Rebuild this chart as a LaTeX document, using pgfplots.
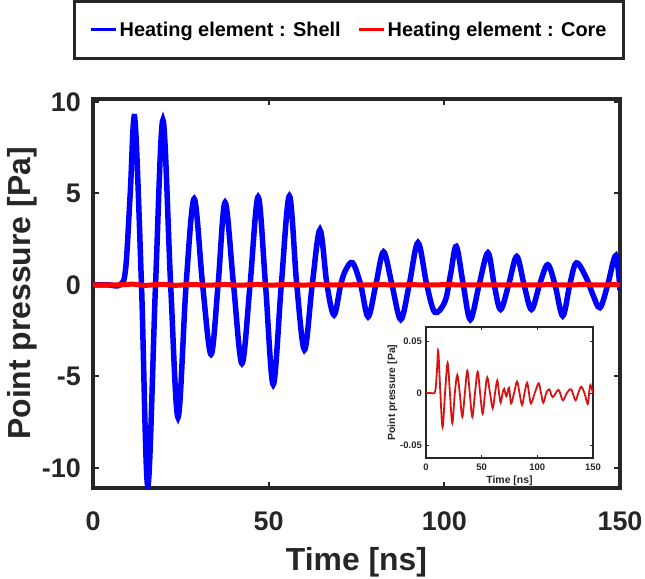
\documentclass[border=0pt]{standalone}
\usepackage{fontspec}
\setmainfont{Liberation Sans}
\usepackage{pgfplots}
\pgfplotsset{compat=1.18}
\usepackage{pgfplotstable}

\definecolor{axgray}{RGB}{38,38,38}
\definecolor{shellblue}{RGB}{0,0,255}
\definecolor{corered}{RGB}{255,0,0}
\definecolor{insetred}{RGB}{215,20,20}

% Point pressure, heating element in the shell [Pa]
\pgfplotstableread{
t p
0 0
4.0 0
7.8 0
9.3 0.9
10.6 5.0
11.9 9.1
13.8 0
15.6 -11.0
17.8 0
19.9 9.0
22.1 0
24.2 -7.25
26.5 0
28.8 4.7
31.2 0
33.6 -3.8
35.6 0
37.6 4.5
40.0 0
42.4 -4.3
44.7 0
47.0 4.8
49.1 0
51.3 -5.45
53.6 0
55.9 4.85
58.0 0
60.2 -3.55
62.4 0
64.6 3.0
66.6 0
68.6 -1.65
70.5 0
71.9 0.8
73.9 1.2
76.2 0
78.3 -1.75
80.5 0
82.7 1.8
85.1 0
87.6 -1.9
90.0 0
92.5 2.3
95.0 0
97.3 -1.5
100.2 -0.9
101.8 0.6
103.4 2.1
105.4 0
107.4 -1.9
109.9 0
112.4 1.75
114.2 0
116.0 -1.35
118.3 0
120.6 1.55
122.7 0
124.8 -1.35
127.1 0
129.4 1.1
131.5 0
133.7 -1.7
135.7 0
137.6 1.2
140.6 0.3
142.2 -0.5
144.3 -1.25
146.5 0
148.8 1.6
150.0 -0.3
}\shelldata

% Point pressure, heating element in the core [Pa]
\pgfplotstableread{
t p
0 0
4.0 0
7.6 0
8.8 0.006
9.9 0.022
11.0 0.0407
12.9 0
14.9 -0.033
17.1 0
19.4 0.029
21.5 0
23.6 -0.029
25.9 0
28.1 0.0173
30.3 0
32.6 -0.023
34.9 0
37.1 0.0215
39.3 0
41.6 -0.023
44.0 0
46.4 0.0205
48.6 0
50.9 -0.020
53.0 0
55.0 0.015
57.5 0
59.9 -0.0147
62.0 0
64.0 0.012
65.6 0
67.1 -0.0093
68.8 0
70.2 0.004
72.2 -0.003
74.6 0.005
76.4 -0.010
79.1 0
81.8 0.011
84.0 0
86.3 -0.0115
88.5 0
90.8 0.010
92.5 0
94.3 -0.010
97.7 0
101.2 0.0093
103.3 0
105.4 -0.0093
108.0 0
110.8 0.0035
113.8 -0.004
119.0 0.003
122.9 -0.007
126.5 0
130.4 0.0035
134.2 -0.007
136.8 0
139.4 0.006
142.3 0
145.3 -0.0105
146.5 0
147.7 0.0077
150.0 0
}\coredata

\begin{document}
\begin{tikzpicture}
\useasboundingbox (-93bp,-91bp) rectangle (552bp,488bp);
\begin{axis}[
  at={(0,0)}, anchor=south west,
  width=527bp, height=389bp, scale only axis,
  xmin=0, xmax=150, ymin=-11.1, ymax=10.15,
  xtick={0,50,100,150}, ytick={-10,-5,0,5,10},
  tick align=inside, major tick length=6bp,
  every tick/.style={axgray, line width=2bp},
  axis line style={axgray, line width=3.5bp},
  /pgf/number format/assume math mode=true,
  ticklabel style={font=\bfseries\fontsize{27}{30}\selectfont, text=axgray},
  xticklabel style={anchor=base, yshift=-42.7bp},
  yticklabel style={anchor=east, inner xsep=0pt, xshift=-12bp},
  xlabel={Time [ns]}, ylabel={Point pressure [Pa]},
  every axis x label/.style={at={(axis description cs:0.5,0)}, yshift=-74bp, anchor=center,
    font=\bfseries\fontsize{32}{36}\selectfont, text=axgray},
  every axis y label/.style={at={(axis description cs:0,0.5)}, xshift=-71bp, rotate=90, anchor=center,
    font=\bfseries\fontsize{32}{36}\selectfont, text=axgray},
  legend columns=2,
  legend style={at={(axis description cs:0.486,1.1774)}, anchor=center,
    draw=axgray, line width=3bp, fill=white,
    inner xsep=15bp, inner ysep=19bp,
    font=\bfseries\fontsize{20}{22}\selectfont,
    /tikz/every even column/.append style={column sep=15bp}},
  legend image code/.code={\draw[#1, line width=3bp] (0bp,0bp) -- (25bp,0bp);},
]
\addplot[shellblue, line width=5.5bp, smooth, tension=0.55] table {\shelldata};
\addlegendentry{Heating element : Shell}
\addplot[corered, line width=5bp, smooth, tension=0.55] table {\coredata};
\addlegendentry{Heating element : Core}
\end{axis}

% inset: core signal at its own scale
\begin{axis}[
  at={(333bp,30bp)}, anchor=south west,
  width=167bp, height=131bp, scale only axis,
  axis background/.style={fill=white},
  xmin=0, xmax=150, ymin=-0.0625, ymax=0.0635,
  xtick={0,50,100,150}, ytick={-0.05,0,0.05},
  yticklabels={-0.05,0,0.05}, scaled y ticks=false,
  tick align=inside, major tick length=3bp,
  every tick/.style={axgray, line width=0.8bp},
  axis line style={axgray, line width=1.3bp},
  /pgf/number format/assume math mode=true,
  ticklabel style={font=\bfseries\fontsize{9.5}{11}\selectfont, text=axgray},
  xticklabel style={anchor=base, yshift=-12.7bp},
  yticklabel style={anchor=east, inner xsep=0pt, xshift=-4bp},
  xlabel={Time [ns]}, ylabel={Point pressure [Pa]},
  every axis x label/.style={at={(axis description cs:0.5,0)}, yshift=-23bp, anchor=center,
    font=\bfseries\fontsize{10.5}{12}\selectfont, text=axgray},
  every axis y label/.style={at={(axis description cs:0,0.5)}, xshift=-33.5bp, rotate=90, anchor=center,
    font=\bfseries\fontsize{10.5}{12}\selectfont, text=axgray},
]
\addplot[insetred, line width=1.8bp, smooth, tension=0.55] table {\coredata};
\end{axis}
\end{tikzpicture}
\end{document}
